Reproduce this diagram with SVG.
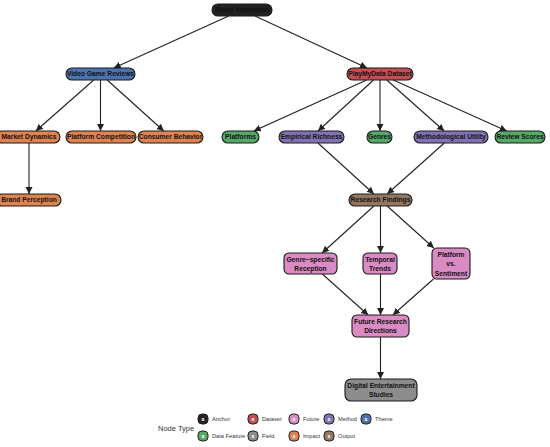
<svg xmlns="http://www.w3.org/2000/svg" width="550" height="447" viewBox="0 0 550 447">
<defs>
<marker id="arr" markerUnits="userSpaceOnUse" markerWidth="8" markerHeight="8" refX="7" refY="3.5" orient="auto">
<path d="M0,0 L7,3.5 L0,7 Z" fill="#222"/>
</marker>
<style>
.n rect{stroke:#1a1a1a;stroke-width:1.1}
.n text{font-family:"Liberation Sans",Arial,sans-serif;font-weight:bold;font-size:6.7px;fill:#111;text-anchor:middle}
.anchor{fill:#222}.theme{fill:#4C72B0}.dataset{fill:#C44E52}.impact{fill:#DD8452}.feature{fill:#55A868}.method{fill:#8172B3}.output{fill:#937860}.future{fill:#DA8BC3}.field{fill:#8C8C8C}
#edges line{stroke:#222;stroke-width:1.1;marker-end:url(#arr)}
.lg text{font-family:"Liberation Sans",Arial,sans-serif;font-size:5.7px;fill:#333}
.lg rect{stroke:#222;stroke-width:1}
.lg .g{font-family:"Liberation Sans",Arial,sans-serif;font-size:5px;fill:#fff;text-anchor:middle;font-weight:bold}
</style>
</defs>
<rect width="550" height="447" fill="#fff"/>
<g id="edges">
<line x1="228.7" y1="16" x2="113.8" y2="68"/>
<line x1="255" y1="16" x2="367" y2="68"/>
<line x1="93.7" y1="80" x2="35.8" y2="131"/>
<line x1="100.5" y1="80" x2="100.5" y2="131"/>
<line x1="107.2" y1="80" x2="163.8" y2="131"/>
<line x1="29" y1="143" x2="29" y2="194"/>
<line x1="366.7" y1="80" x2="253.8" y2="131"/>
<line x1="373.5" y1="80" x2="318" y2="131"/>
<line x1="380" y1="80" x2="380" y2="131"/>
<line x1="386.8" y1="80" x2="444.2" y2="131"/>
<line x1="393.3" y1="80" x2="506.7" y2="131"/>
<line x1="318" y1="143" x2="373.9" y2="194"/>
<line x1="444.3" y1="143" x2="387.2" y2="194"/>
<line x1="373.9" y1="206" x2="322.1" y2="253"/>
<line x1="380.5" y1="206" x2="380.5" y2="253"/>
<line x1="387.2" y1="206" x2="433.8" y2="248"/>
<line x1="322.3" y1="274" x2="368.2" y2="315"/>
<line x1="380.5" y1="274" x2="380.5" y2="315"/>
<line x1="433.5" y1="279" x2="392.9" y2="315"/>
<line x1="380.5" y1="337" x2="380.5" y2="379"/>
</g>
<g id="study-motivation" class="n"><rect class="anchor" x="212" y="4" width="60" height="12" rx="6"/><text x="242" y="12.4">Study Motivation</text></g>
<g id="video-game-reviews" class="n"><rect class="theme" x="66" y="68" width="69" height="12" rx="6"/><text x="100.5" y="76.4">Video Game Reviews</text></g>
<g id="playmydata-dataset" class="n"><rect class="dataset" x="347" y="68" width="66" height="12" rx="6"/><text x="380" y="76.4">PlayMyData Dataset</text></g>
<g id="market-dynamics" class="n"><rect class="impact" x="-4" y="131" width="64" height="12" rx="6"/><text x="29" y="139.4">Market Dynamics</text></g>
<g id="platform-competition" class="n"><rect class="impact" x="66" y="131" width="70" height="12" rx="6"/><text x="101" y="139.4">Platform Competition</text></g>
<g id="consumer-behavior" class="n"><rect class="impact" x="138" y="131" width="65" height="12" rx="6"/><text x="170.5" y="139.4">Consumer Behavior</text></g>
<g id="platforms" class="n"><rect class="feature" x="222" y="131" width="37" height="12" rx="6"/><text x="240.5" y="139.4">Platforms</text></g>
<g id="empirical-richness" class="n"><rect class="method" x="279" y="131" width="65" height="12" rx="6"/><text x="311.5" y="139.4">Empirical Richness</text></g>
<g id="genres" class="n"><rect class="feature" x="367" y="131" width="25" height="12" rx="6"/><text x="379.5" y="139.4">Genres</text></g>
<g id="methodological-utility" class="n"><rect class="method" x="414" y="131" width="74" height="12" rx="6"/><text x="451" y="139.4">Methodological Utility</text></g>
<g id="review-scores" class="n"><rect class="feature" x="495" y="131" width="50" height="12" rx="6"/><text x="520" y="139.4">Review Scores</text></g>
<g id="brand-perception" class="n"><rect class="impact" x="-4" y="194" width="65" height="12" rx="6"/><text x="29" y="202.4">Brand Perception</text></g>
<g id="research-findings" class="n"><rect class="output" x="349" y="194" width="63" height="12" rx="6"/><text x="380.5" y="202.4">Research Findings</text></g>
<g id="genre-specific-reception" class="n"><rect class="future" x="284" y="253" width="53" height="21" rx="5"/><text x="310.5" y="261.5">Genre−specific</text><text x="310.5" y="270.8">Reception</text></g>
<g id="temporal-trends" class="n"><rect class="future" x="363" y="253" width="34" height="21" rx="5"/><text x="380" y="261.5">Temporal</text><text x="380" y="270.8">Trends</text></g>
<g id="platform-vs-sentiment" class="n"><rect class="future" x="432" y="248" width="38" height="31" rx="5"/><text x="451" y="256.9">Platform</text><text x="451" y="266.2">vs.</text><text x="451" y="275.5">Sentiment</text></g>
<g id="future-research-directions" class="n"><rect class="future" x="352" y="315" width="57" height="22" rx="5"/><text x="380.5" y="323.9">Future Research</text><text x="380.5" y="333.2">Directions</text></g>
<g id="digital-entertainment-studies" class="n"><rect class="field" x="345" y="379" width="72" height="22" rx="6"/><text x="381" y="387.9">Digital Entertainment</text><text x="381" y="397.2">Studies</text></g>
<g id="legend" class="lg">
<text x="158" y="431" style="font-size:7.5px">Node Type</text>
<rect class="anchor" x="198" y="414" width="10" height="10" rx="4"/><text class="g" x="203" y="420.8">a</text><text x="212" y="421">Anchor</text>
<rect class="dataset" x="248" y="414" width="10" height="10" rx="4"/><text class="g" x="253" y="420.8">a</text><text x="262" y="421">Dataset</text>
<rect class="future" x="289" y="414" width="10" height="10" rx="4"/><text class="g" x="294" y="420.8">a</text><text x="303" y="421">Future</text>
<rect class="method" x="324" y="414" width="10" height="10" rx="4"/><text class="g" x="329" y="420.8">a</text><text x="338" y="421">Method</text>
<rect class="theme" x="361" y="414" width="10" height="10" rx="4"/><text class="g" x="366" y="420.8">a</text><text x="375" y="421">Theme</text>
<rect class="feature" x="198" y="431" width="10" height="10" rx="4"/><text class="g" x="203" y="437.8">a</text><text x="212" y="438">Data Feature</text>
<rect class="field" x="248" y="431" width="10" height="10" rx="4"/><text class="g" x="253" y="437.8">a</text><text x="262" y="438">Field</text>
<rect class="impact" x="289" y="431" width="10" height="10" rx="4"/><text class="g" x="294" y="437.8">a</text><text x="303" y="438">Impact</text>
<rect class="output" x="324" y="431" width="10" height="10" rx="4"/><text class="g" x="329" y="437.8">a</text><text x="338" y="438">Output</text>
</g>
</svg>
